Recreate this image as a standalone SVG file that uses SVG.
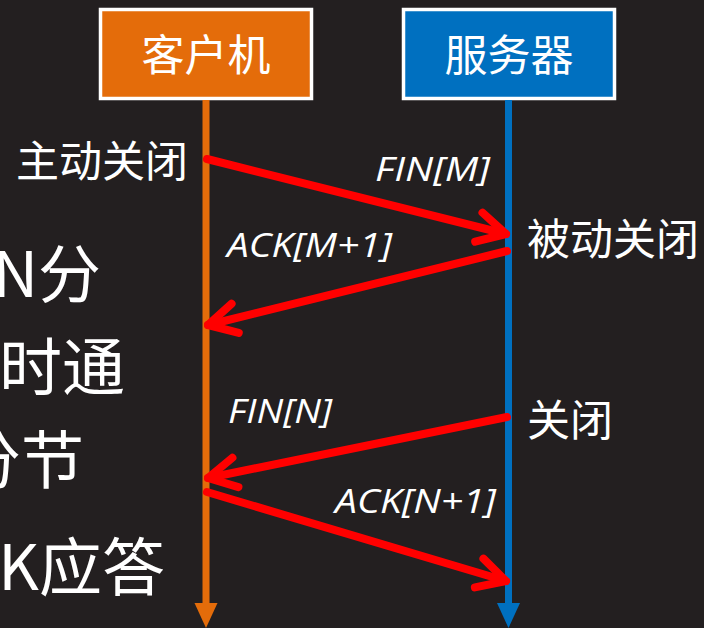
<svg xmlns="http://www.w3.org/2000/svg" width="704" height="628" viewBox="0 0 704 628">
<style>
.cjk{font-family:"Noto Sans CJK SC","Noto Sans",sans-serif;fill:#ffffff}
.big{font-size:63px}
.box{stroke:#ffffff;stroke-width:3.5}
.boxt{font-size:43px;text-anchor:middle}
.side{font-size:43px}
.lbl{font-family:"Open Sans","Liberation Sans",sans-serif;font-style:italic;font-size:33px;fill:#ffffff}
.msg{stroke:#ff0000;stroke-width:8;stroke-linecap:round;fill:none;marker-end:url(#vhead)}
</style>
<defs>
<marker id="vhead" markerUnits="userSpaceOnUse" markerWidth="60" markerHeight="60" refX="0" refY="0" orient="auto" overflow="visible">
<path d="M-28,-15 L0,0 L-28,15" fill="none" stroke="#ff0000" stroke-width="8" stroke-linecap="round" stroke-linejoin="round"/>
</marker>
</defs>
<rect width="704" height="628" fill="#231f20"/>
<g id="bg-text">
<text class="cjk big" x="101" y="297" text-anchor="end">N分</text>
<text class="cjk big" x="125" y="390" text-anchor="end">时通</text>
<text class="cjk big" x="84" y="483" text-anchor="end">分节</text>
<text class="cjk big" x="165" y="590" text-anchor="end">K应答</text>
</g>
<g id="client">
<rect class="box" x="100.5" y="9.5" width="211" height="89" fill="#e46c0a"/>
<text class="cjk boxt" x="206" y="71">客户机</text>
<line x1="206" y1="100" x2="206" y2="606" stroke="#e46c0a" stroke-width="7"/>
<polygon points="194.5,603 217.5,603 206,628" fill="#e46c0a"/>
</g>
<g id="server">
<rect class="box" x="403.5" y="9.5" width="211" height="89" fill="#0070c0"/>
<text class="cjk boxt" x="509" y="71">服务器</text>
<line x1="508.5" y1="100" x2="508.5" y2="606" stroke="#0070c0" stroke-width="7"/>
<polygon points="497,603 520,603 508.5,628" fill="#0070c0"/>
</g>
<g id="state-labels">
<text class="cjk side" x="16" y="177">主动关闭</text>
<text class="cjk side" x="527" y="255">被动关闭</text>
<text class="cjk side" x="527" y="436">关闭</text>
</g>
<g id="connectors">
<line class="msg" x1="207" y1="159" x2="506" y2="234"/>
<line class="msg" x1="507" y1="251" x2="208" y2="325"/>
<line class="msg" x1="507" y1="417" x2="208" y2="478"/>
<line class="msg" x1="207" y1="492" x2="506" y2="581"/>
</g>
<g id="msg-labels">
<text class="lbl" x="375" y="181" textLength="115" lengthAdjust="spacingAndGlyphs">FIN[M]</text>
<text class="lbl" x="227" y="257" textLength="165" lengthAdjust="spacingAndGlyphs">ACK[M+1]</text>
<text class="lbl" x="228" y="423" textLength="104" lengthAdjust="spacingAndGlyphs">FIN[N]</text>
<text class="lbl" x="335" y="513" textLength="161" lengthAdjust="spacingAndGlyphs">ACK[N+1]</text>
</g>
</svg>
